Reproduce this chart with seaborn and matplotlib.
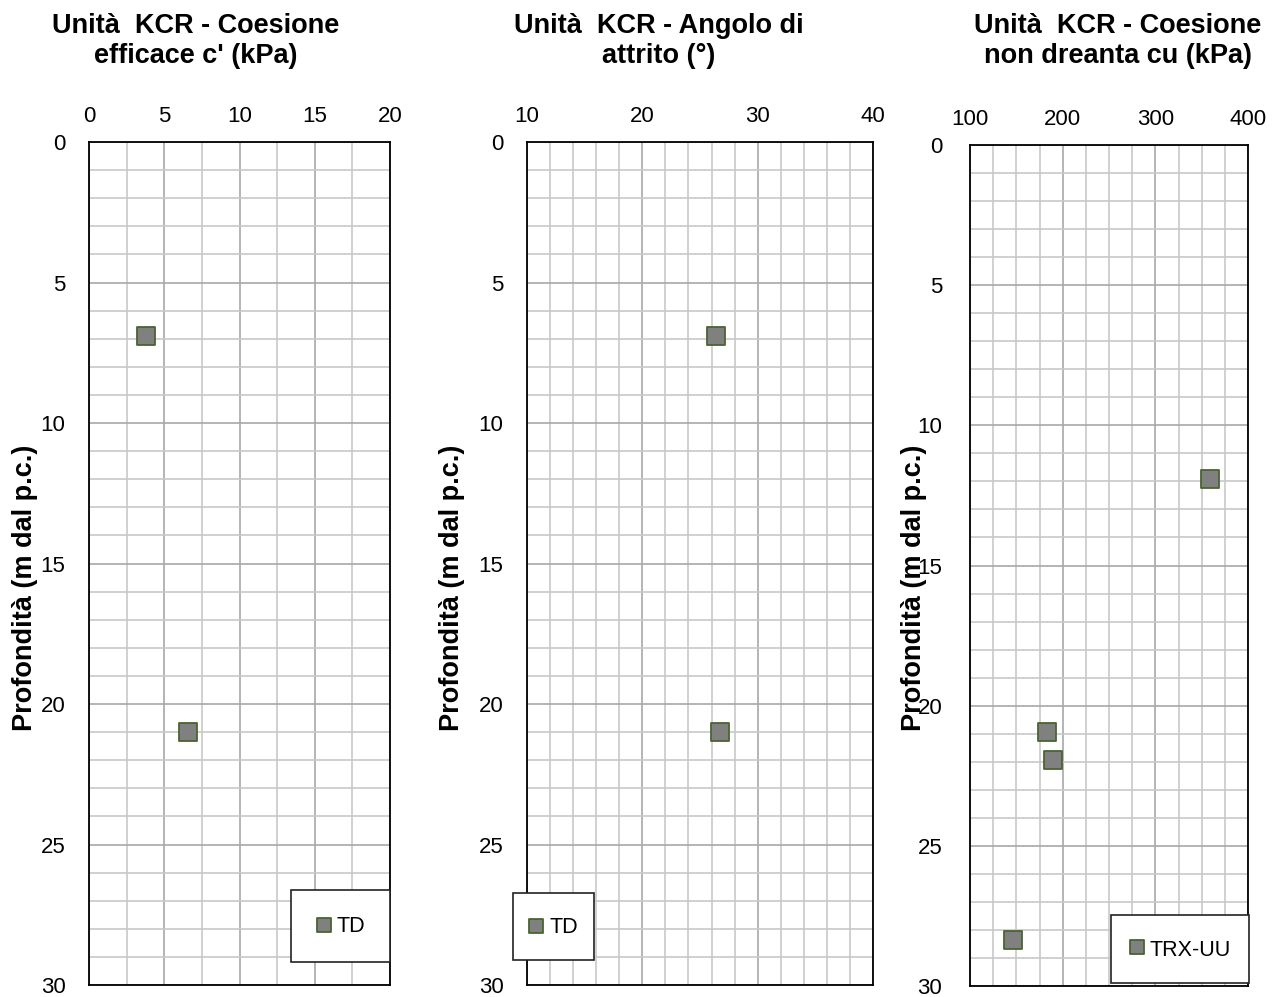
import numpy as np
import pandas as pd
import matplotlib
matplotlib.use("Agg")
import matplotlib.pyplot as plt
import seaborn as sns
from matplotlib.ticker import MultipleLocator
from matplotlib.transforms import IdentityTransform

# --- data -------------------------------------------------------------
titles = [
    "Unità  KCR - Coesione\nefficace c' (kPa)",
    "Unità  KCR - Angolo di\nattrito (°)",
    "Unità  KCR - Coesione\nnon dreanta cu (kPa)",
]
series_labels = ["TD", "TD", "TRX-UU"]

coes_eff_val = [3.8, 6.6]
coes_eff_depth = [6.9, 21.0]

attrito_val = [26.4, 26.7]
attrito_depth = [6.9, 21.0]

cu_val = [359, 183, 190, 146]
cu_depth = [11.9, 20.95, 21.95, 28.35]

x_limits = [(0, 20), (10, 40), (100, 400)]
x_major = [5, 10, 100]
x_minor = [2.5, 2, 25]
depth_limits = (0, 30)
depth_label = "Profondità (m dal p.c.)"

# --- style ------------------------------------------------------------
sns.set_theme(style="white")
plt.rcParams["font.family"] = ["Liberation Sans", "DejaVu Sans"]
plt.rcParams["text.color"] = "black"
plt.rcParams["axes.labelcolor"] = "black"

fig = plt.figure(figsize=(12.8, 9.97), dpi=100)
W, H = 1280, 997

# axes boxes in pixels: left, top, right, bottom
boxes = [(89, 142, 390, 985), (527, 142, 873, 985), (970, 145, 1248, 986)]
title_x = [196, 659, 1118]
ylabel_x = [25, 452, 914]
ylabel_y = 588
legend_anchor = [(390, 962), (594, 960), (1249, 983)]
legend_pad = [1.15, 0.75, 0.85]
legend_hh = [1.0, 2.1, 1.9]
legend_marker_y = [0.375, 0.22, 0.28]

datasets = [
    (coes_eff_val, coes_eff_depth),
    (attrito_val, attrito_depth),
    (cu_val, cu_depth),
]

for i, ((vals, depths), (l, t, r, b)) in enumerate(zip(datasets, boxes)):
    ax = fig.add_axes([l / W, 1 - b / H, (r - l) / W, (b - t) / H])
    df = pd.DataFrame({"valore": vals, "profondita": depths})
    sns.scatterplot(
        data=df, x="valore", y="profondita", ax=ax,
        marker="s", s=160, color="#808080", edgecolor="#4a6530",
        linewidth=1.3, label=series_labels[i], zorder=5, clip_on=False,
    )
    ax.set_xlim(*x_limits[i])
    ax.set_ylim(depth_limits[1], depth_limits[0])
    ax.xaxis.set_major_locator(MultipleLocator(x_major[i]))
    ax.xaxis.set_minor_locator(MultipleLocator(x_minor[i]))
    ax.yaxis.set_major_locator(MultipleLocator(5))
    ax.yaxis.set_minor_locator(MultipleLocator(1))
    ax.xaxis.tick_top()
    ax.tick_params(axis="both", which="both", length=0, labelsize=16,
                   colors="black")
    ax.tick_params(axis="x", pad=11)
    ax.tick_params(axis="y", pad=17 if i < 2 else 20)
    ax.grid(True, which="major", color="#a8a8a8", linewidth=1.2)
    ax.grid(True, which="minor", color="#c8c8c8", linewidth=1.2)
    ax.set_axisbelow(True)
    for sp in ax.spines.values():
        sp.set_visible(True)
        sp.set_color("black")
        sp.set_linewidth(1.3)
    ax.set_xlabel("")
    ax.set_ylabel(depth_label, fontsize=19.5, fontweight="bold", va="center",
                  color="black")
    ax.yaxis.set_label_coords(ylabel_x[i], H - ylabel_y,
                              transform=IdentityTransform())

    ax_anchor = ((legend_anchor[i][0] - l) / (r - l),
                 (b - legend_anchor[i][1]) / (b - t))
    leg = ax.legend(
        loc="lower right", bbox_to_anchor=ax_anchor, fontsize=15.5,
        frameon=True, fancybox=False, shadow=False, framealpha=1,
        edgecolor="#222222", borderpad=legend_pad[i], handlelength=0.7,
        handleheight=legend_hh[i], handletextpad=0.25, markerscale=0.75,
        borderaxespad=0, scatteryoffsets=[legend_marker_y[i]],
    )
    leg.get_frame().set_linewidth(1.2)
    for txt in leg.get_texts():
        txt.set_color("black")

    fig.text(title_x[i] / W, 1 - 41 / H, titles[i], ha="center", va="center",
             fontsize=19.5, fontweight="bold", linespacing=1.2, color="black")

fig.savefig("out.png", dpi=100)
